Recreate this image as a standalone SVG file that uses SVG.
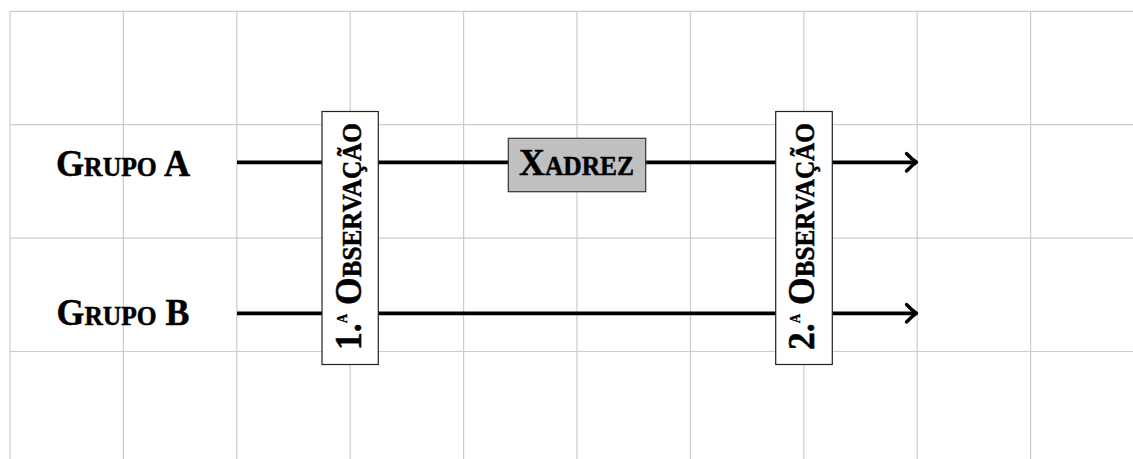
<svg xmlns="http://www.w3.org/2000/svg" width="1133" height="459" viewBox="0 0 1133 459">
<style>
.grid{stroke:#cccccc;stroke-width:1.2;fill:none}
.conn{stroke:#000;stroke-width:3.8;fill:none}
.head{stroke:#000;stroke-width:3.4;fill:none;stroke-linecap:round;stroke-linejoin:round}
.lbl{font-family:"Liberation Serif","DejaVu Serif",serif;font-weight:bold;font-size:38px;fill:#000;stroke:#000;stroke-width:0.5}
.sc{font-size:27px}
.box{fill:#fff;stroke:#222;stroke-width:1.2}
.gbox{fill:#c0c0c0;stroke:#333;stroke-width:1.2}
.sup{font-size:14px;stroke-width:0.3}
</style>
<rect width="1133" height="459" fill="#fff"/>
<g id="grid" class="grid">
<path d="M10,11.3H1133M10,124.7H1133M10,238.1H1133M10,351.5H1133"/>
<path d="M10,11.3V459M123.4,11.3V459M236.8,11.3V459M350.2,11.3V459M463.6,11.3V459M577,11.3V459M690.4,11.3V459M803.8,11.3V459M917.2,11.3V459M1030.6,11.3V459"/>
</g>
<g id="connectors">
<path class="conn" d="M237,162.3H914"/>
<path class="head" d="M906.5,153.5Q912,159.5 916.5,162.3Q912,165.1 906.5,171"/>
<path class="conn" d="M237,313.3H914"/>
<path class="head" d="M906.5,304.5Q912,310.5 916.5,313.3Q912,316.1 906.5,322"/>
</g>
<g id="grupoA"><text class="lbl" x="56" y="175.5" textLength="134" lengthAdjust="spacingAndGlyphs">G<tspan class="sc">RUPO</tspan> A</text></g>
<g id="grupoB"><text class="lbl" x="56.5" y="325" textLength="133" lengthAdjust="spacingAndGlyphs">G<tspan class="sc">RUPO</tspan> B</text></g>
<g id="obs1">
<rect class="box" x="322" y="111.5" width="56.3" height="253"/>
<text class="lbl" transform="translate(361,350) rotate(-90)" textLength="227" lengthAdjust="spacingAndGlyphs">1.<tspan class="sup" dy="-14">A</tspan><tspan dy="14"> O</tspan><tspan class="sc">BSERVAÇÃO</tspan></text>
</g>
<g id="xadrez">
<rect class="gbox" x="508.3" y="138.3" width="137.4" height="53.4"/>
<text class="lbl" x="519" y="175" textLength="115" lengthAdjust="spacingAndGlyphs">X<tspan class="sc">ADREZ</tspan></text>
</g>
<g id="obs2">
<rect class="box" x="775.7" y="111.5" width="56.6" height="253"/>
<text class="lbl" transform="translate(814,350) rotate(-90)" textLength="227" lengthAdjust="spacingAndGlyphs">2.<tspan class="sup" dy="-14">A</tspan><tspan dy="14"> O</tspan><tspan class="sc">BSERVAÇÃO</tspan></text>
</g>
</svg>
